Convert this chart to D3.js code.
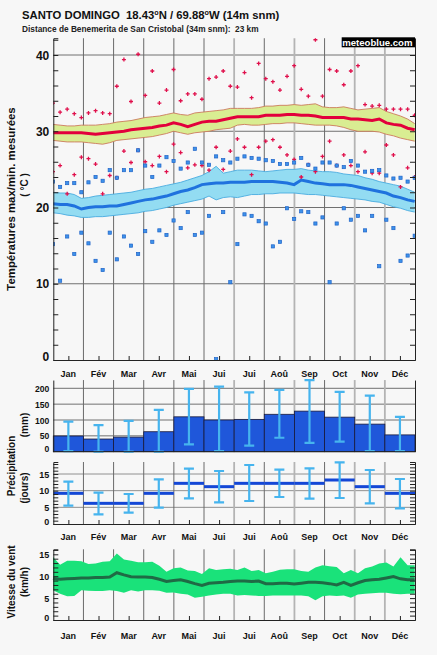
<!DOCTYPE html>
<html><head><meta charset="utf-8">
<script src="https://cdn.jsdelivr.net/npm/d3@7"></script>
<style>
html,body{margin:0;padding:0;background:#f7f7f7;}
svg{display:block;font-family:"Liberation Sans",Arial,sans-serif;font-weight:bold;}
text{white-space:pre;}
</style></head><body>
<svg id="c" width="437" height="655"></svg>
<script>
// ---------- DATA ----------
const months = ["Jan","Fév","Mar","Avr","Mai","Jui","Jui","Aoû","Sep","Oct","Nov","Déc"];
const tempTicks = [0,10,20,30,40];
const precipTicks = [0,50,100,150,200];
const dayTicks = [0,5,10,15];
const windTicks = [0,5,10,15];

// weekly values (52 per year)
const tmaxMean = [29.8,29.8,29.8,29.8,29.8,29.7,29.6,29.7,29.8,29.9,30.0,30.2,30.3,30.4,30.5,30.7,30.8,31.1,30.9,30.6,30.9,31.2,31.3,31.3,31.5,31.7,31.9,31.9,31.9,31.9,32.1,32.1,32.1,32.2,32.2,32.1,32.1,32.0,31.8,31.8,31.8,31.8,31.6,31.6,31.5,31.4,31.6,31.1,30.9,30.8,30.4,30.2];
const tmaxBandHi = [30.9,30.8,30.7,30.7,30.8,30.8,30.8,30.9,31.0,31.2,31.3,31.4,31.6,31.8,31.9,32.0,32.2,32.4,32.2,32.1,32.4,32.5,32.6,32.7,32.8,33.0,33.0,33.0,33.0,33.1,33.3,33.3,33.4,33.4,33.5,33.4,33.5,33.6,33.2,33.1,33.1,33.2,33.0,32.8,32.9,33.0,33.1,32.6,32.3,32.0,31.6,31.0];
const tmaxBandLo = [28.8,28.7,28.6,28.6,28.6,28.5,28.4,28.3,28.5,28.8,28.9,29.0,29.1,29.2,29.3,29.5,29.7,30.0,29.8,29.6,29.8,29.9,30.0,30.2,30.3,30.4,30.8,30.9,30.8,30.8,30.9,31.0,31.0,31.1,31.1,31.0,30.9,30.8,30.8,30.8,30.7,30.5,30.2,30.0,30.0,30.0,29.9,29.6,29.4,29.1,28.9,28.7];
const tminMean = [20.5,20.4,20.4,20.2,19.8,20.0,20.1,20.1,20.2,20.2,20.4,20.6,20.8,21.0,21.1,21.3,21.5,21.8,22.1,22.3,22.6,23.0,23.1,23.2,23.2,23.3,23.3,23.3,23.4,23.4,23.4,23.4,23.3,23.2,23.0,23.6,23.4,23.2,23.1,23.0,23.0,23.0,22.9,22.7,22.5,22.3,22.1,21.9,21.5,21.3,21.0,20.8];
const tminBandHi = [22.0,21.9,21.9,21.7,21.2,21.3,21.5,21.6,21.7,21.8,21.9,22.0,22.2,22.4,22.5,22.7,22.9,23.1,23.3,23.6,23.9,24.2,24.7,25.4,24.5,24.7,24.9,24.9,24.9,24.8,24.7,24.8,24.9,25.0,25.0,25.1,24.9,24.8,24.7,24.7,24.6,24.4,24.3,24.2,23.9,23.7,23.4,23.2,23.0,22.8,22.4,22.0];
const tminBandLo = [19.3,19.2,19.0,18.9,18.7,18.7,18.8,18.8,18.9,19.0,19.1,19.2,19.3,19.5,19.6,19.8,20.0,20.3,20.5,20.7,20.9,21.1,21.5,21.0,21.3,21.4,21.3,21.5,21.7,21.7,21.8,21.8,21.9,21.9,21.9,21.8,21.7,21.7,21.6,21.5,21.4,21.3,21.2,21.1,21.0,20.8,20.7,20.4,20.1,19.9,19.6,19.4];
const tmaxHighest = [33.7,32.5,32.9,32.3,31.8,32.4,32.7,32.4,32.3,35.9,39.4,33.9,40.1,34.7,37.9,33.7,35.4,38.1,34.0,34.9,34.9,34.2,36.9,37.1,37.9,35.9,35.8,37.7,34.4,38.9,36.9,36.5,35.4,37.2,38.6,35.5,34.6,42.0,34.6,38.1,37.9,36.1,37.9,38.6,33.5,33.3,33.4,32.9,32.9,32.9,32.9,32.1];
const tminHighest = [24.7,25.5,21.8,24.3,26.6,26.4,25.7,21.8,24.2,23.9,27.4,25.9,27.5,26.0,25.5,26.7,24.7,28.3,27.2,25.2,25.6,25.5,24.9,27.9,25.0,27.4,29.0,27.9,24.3,27.9,28.7,28.9,27.9,26.9,26.3,24.0,25.6,24.7,26.7,28.7,25.5,26.9,25.5,24.7,27.3,24.5,24.5,28.2,26.9,22.7,25.2,24.0];
const tmaxLowest = [23.4,22.7,23.2,23.2,22.0,23.3,24.0,23.5,24.9,23.9,24.9,24.9,27.5,25.5,24.0,25.5,26.6,26.1,25.1,25.9,27.7,25.9,25.6,26.7,26.2,25.9,26.4,26.7,26.5,26.4,26.2,26.1,25.7,25.7,25.9,26.5,25.6,25.1,25.9,25.9,25.5,25.3,26.1,25.5,24.7,24.8,24.9,24.2,23.8,23.9,23.4,23.9];
const tminLowest = [15.2,10.4,16.2,13.9,16.7,15.3,13.0,11.8,16.7,13.2,16.2,15.0,13.9,16.9,15.5,17.0,16.4,18.3,17.3,19.4,16.4,16.7,18.9,0.1,19.4,10.2,15.2,19.1,18.9,18.2,17.9,14.9,15.5,19.9,18.5,19.5,19.4,17.9,18.7,10.2,17.9,19.9,18.4,18.9,17.0,18.9,12.3,18.4,17.3,13.0,13.7,16.3];

// monthly precipitation
const precipMm = [49.5,40,46,63,110,100,102,118,128,109,87,53];
const precipMmLo = [2,0,0,0,23,2,19,44,28,32,2,2];
const precipMmHi = [95,84,97,132,198,205,187,195,226,189,177,110];
const precipDays = [9.2,6.2,6.2,9.2,12.2,11.2,12.2,12.2,12.2,13.2,11.2,9.2];
const precipDaysLo = [5.5,2.9,3.4,4.9,7.7,6.5,6.9,8.1,7.6,7.8,6.2,4.7];
const precipDaysHi = [12.7,9.4,9.0,13.4,16.6,15.9,17.7,16.3,16.7,18.5,16.2,13.5];

// weekly wind speed
const windMean = [9.5,9.3,9.4,9.5,9.6,9.6,9.7,9.7,9.8,10.8,10.3,9.9,9.8,9.8,9.7,9.3,8.8,9.0,9.2,8.8,8.3,7.9,8.4,8.5,8.6,8.8,8.9,8.9,8.8,8.9,8.3,8.3,8.4,8.4,8.2,8.4,8.6,8.6,8.5,8.3,8.0,8.6,7.9,8.5,9.0,9.2,9.3,9.6,9.9,9.4,9.2,9.2];
const windHi = [14.4,12.6,13.5,13.5,13.4,12.8,12.9,13.3,13.4,15.2,13.8,13.5,13.2,13.2,13.3,12.4,11.0,11.8,12.0,11.3,11.2,10.5,11.8,11.4,11.6,11.7,11.4,12.0,11.2,11.4,10.7,11.0,11.5,11.6,11.6,11.2,11.0,12.0,12.5,12.3,12.1,10.7,11.4,10.7,11.8,12.2,12.9,13.1,12.2,14.3,12.5,12.5];
const windLo = [6.8,6.0,5.4,5.5,6.8,6.7,6.6,6.6,6.8,6.6,6.2,6.8,6.5,6.8,6.8,6.7,6.2,6.3,6.0,5.8,5.1,5.3,5.6,5.8,6.0,6.0,5.6,5.7,5.6,5.5,5.5,5.6,5.6,5.6,5.6,5.6,5.4,4.5,5.4,5.6,5.5,5.6,5.1,5.8,6.0,6.1,6.2,6.2,6.0,5.9,6.0,6.0];

// ---------- CHART ----------
const svg = d3.select("#c");
const X0 = 53.3, X1 = 415;
const xm = d3.scaleLinear().domain([0,12]).range([X0, X1]);
const xw = d3.scaleLinear().domain([0,51]).range([53, 414.7]);
const lightMonthLines = [6,8,10,11];

function monthLines(g, y0, y1) {
  g.selectAll(null).data(d3.range(1,12)).join("line")
    .attr("x1", d => xm(d)).attr("x2", d => xm(d))
    .attr("y1", y0).attr("y2", y1)
    .attr("stroke", d => lightMonthLines.includes(d) ? "#b4b4b4" : "#6a6a6a")
    .attr("stroke-width", d => lightMonthLines.includes(d) ? 1.8 : 1);
}
function hGrid(g, y, vals, color) {
  g.selectAll(null).data(vals).join("line")
    .attr("x1", X0).attr("x2", X1).attr("y1", d => y(d)).attr("y2", d => y(d))
    .attr("stroke", color || "#777").attr("stroke-width", 1);
}
function frame(g, y, minor, fontSize, ticks, withMonths, labelY) {
  const [d0, d1] = y.domain();
  const la = d3.axisRight(y).tickSizeOuter(0).tickFormat("").tickSize(minor ? 5 : 0);
  if (minor) la.tickValues(minor);
  g.append("g").attr("transform", `translate(${X0},0)`).call(la)
    .call(s => s.selectAll("line,path").attr("stroke", "#222"));
  const ra = d3.axisLeft(y).tickSizeOuter(0).tickFormat("").tickSize(minor ? 5 : 0);
  if (minor) ra.tickValues(minor);
  g.append("g").attr("transform", `translate(${X1},0)`).call(ra)
    .call(s => s.selectAll("line,path").attr("stroke", "#222"));
  const lab = d3.axisLeft(y).tickValues(ticks).tickSize(0).tickPadding(4);
  g.append("g").attr("transform", `translate(${X0},0)`).call(lab)
    .call(s => { s.select(".domain").remove();
      s.selectAll("text").attr("font-size", fontSize).attr("font-weight","bold")
        .attr("font-family", '"Liberation Sans",Arial,sans-serif').attr("fill", "#111")
        .attr("dy", d => d === 0 ? "0.0em" : "0.35em"); });
  if (withMonths) {
    const ba = d3.axisTop(xm).tickValues(d3.range(0.5,12,1)).tickSize(4).tickSizeOuter(0).tickFormat("");
    g.append("g").attr("transform", `translate(0,${y(d0)})`).call(ba)
      .call(s => s.selectAll("line,path").attr("stroke", "#222"));
    g.append("g").selectAll("text").data(months).join("text")
      .attr("x", (d,i) => xm(i+0.5)).attr("y", labelY)
      .attr("text-anchor","middle").attr("font-size", 9).attr("fill","#111").text(d => d);
  } else {
    g.append("line").attr("x1", X0).attr("x2", X1).attr("y1", y(d0)).attr("y2", y(d0)).attr("stroke","#222");
  }
}

// Title
const title = svg.append("text").attr("x", 22).attr("y", 19).attr("font-size", 11.3).attr("fill","#111");
title.append("tspan").text("SANTO DOMINGO  18.43");
title.append("tspan").attr("dy", -4).attr("font-size", 7.2).text("o");
title.append("tspan").attr("dy", 4).text("N / 69.88");
title.append("tspan").attr("dy", -4).attr("font-size", 7.2).text("o");
title.append("tspan").attr("dy", 4).text("W (14m snm)");
svg.append("text").attr("x", 22).attr("y", 32.3).attr("font-size", 8.3).attr("fill","#222")
  .text("Distance de Benemerita de San Cristobal (34m snm):  23 km");

// ---------- Temperature panel ----------
const yT = d3.scaleLinear().domain([0, 42.2]).range([360, 360 - 42.2*7.625]);
const gT = svg.append("g");
svg.append("clipPath").attr("id","clipT").append("rect")
  .attr("x", X0).attr("y", yT(42.2)).attr("width", X1-X0).attr("height", yT(0)-yT(42.2));
hGrid(gT, yT, [10,20,30,40], "#707070");
monthLines(gT, yT(42.2), yT(0));
const gTc = gT.append("g").attr("clip-path","url(#clipT)");
const area = (hi, lo, y) => d3.area().x((d,i) => xw(i)).y0((d,i) => y(lo[i])).y1((d,i) => y(hi[i]));
const line = (arr, y) => d3.line().x((d,i) => xw(i)).y(d => y(d));
gTc.append("path").datum(tmaxBandHi).attr("d", area(tmaxBandHi, tmaxBandLo, yT)).attr("fill","#d9ed92");
gTc.append("path").datum(tmaxBandHi).attr("d", line(tmaxBandHi, yT)).attr("fill","none").attr("stroke","#cc7a5c").attr("stroke-width",0.9);
gTc.append("path").datum(tmaxBandLo).attr("d", line(tmaxBandLo, yT)).attr("fill","none").attr("stroke","#cc7a5c").attr("stroke-width",0.9);
gTc.append("path").datum(tmaxMean).attr("d", line(tmaxMean, yT)).attr("fill","none").attr("stroke","#e2003c").attr("stroke-width",3);
gTc.append("path").datum(tminBandHi).attr("d", area(tminBandHi, tminBandLo, yT)).attr("fill","#93dcf2");
gTc.append("path").datum(tminBandHi).attr("d", line(tminBandHi, yT)).attr("fill","none").attr("stroke","#48ace0").attr("stroke-width",0.9);
gTc.append("path").datum(tminBandLo).attr("d", line(tminBandLo, yT)).attr("fill","none").attr("stroke","#48ace0").attr("stroke-width",0.9);
gTc.append("path").datum(tminMean).attr("d", line(tminMean, yT)).attr("fill","none").attr("stroke","#1f72de").attr("stroke-width",3);
function plus(arr) {
  gTc.append("g").selectAll("path").data(arr).join("path")
    .attr("d", (d,i) => { const x = xw(i), y = yT(d); return `M${x-2},${y}H${x+2}M${x},${y-2}V${y+2}`; })
    .attr("stroke","#e0104c").attr("stroke-width",1.3);
}
function squares(arr) {
  gTc.append("g").selectAll("rect").data(arr).join("rect")
    .attr("x", (d,i) => xw(i)-1.6).attr("y", d => yT(d)-1.6).attr("width",3.2).attr("height",3.2)
    .attr("fill","#3d92ea").attr("stroke","#1f63c8").attr("stroke-width",0.7);
}
plus(tmaxHighest); plus(tminHighest);
squares(tmaxLowest); squares(tminLowest);
frame(gT, yT, d3.range(0,43,2), 12, tempTicks, true, 376.5);
// meteoblue badge
svg.append("rect").attr("x", 341.7).attr("y", 37.3).attr("width", X1-341.7).attr("height", 10).attr("fill","#000");
svg.append("text").attr("x", 412.5).attr("y", 45.6).attr("text-anchor","end").attr("font-size", 9.6).attr("fill","#fff").text("meteoblue.com");

// axis titles
function vtitle(x, y, txt, size) {
  svg.append("text").attr("transform", `translate(${x},${y}) rotate(-90)`)
    .attr("text-anchor","middle").attr("font-size", size).attr("fill","#111").text(txt);
}
vtitle(15, 199, "Températures max/min. mesurées", 11.4);
vtitle(27.5, 185, "( °C )", 10);

// ---------- Precipitation mm ----------
const yP = d3.scaleLinear().domain([0, 226]).range([451.7, 451.7 - 226*0.317]);
const gP = svg.append("g");
hGrid(gP, yP, [50,100,150,200], "#707070");
monthLines(gP, yP(226), yP(0));
gP.selectAll("rect.bar").data(precipMm).join("rect").attr("class","bar")
  .attr("x", (d,i) => xm(i)).attr("width", (d,i) => xm(i+1)-xm(i))
  .attr("y", d => yP(d)).attr("height", d => yP(0)-yP(d))
  .attr("fill","#1f57da").attr("stroke","#1a1a3a").attr("stroke-width",0.8);
function errBars(g, y, lo, hi) {
  const eb = g.append("g").attr("stroke","#46b4ee").attr("stroke-width",2.2).attr("fill","none");
  eb.selectAll("path").data(hi).join("path")
    .attr("d", (d,i) => { const x = xm(i+0.5), t = y(hi[i]), b = y(lo[i]);
      return `M${x},${t}V${b}M${x-5},${t}H${x+5}M${x-5},${b}H${x+5}`; });
}
errBars(gP, yP, precipMmLo, precipMmHi);
frame(gP, yP, null, 8.6, precipTicks, false);

// ---------- Precipitation days ----------
const yD = d3.scaleLinear().domain([0, 18.6]).range([524, 524 - 18.6*3.333]);
const gD = svg.append("g");
hGrid(gD, yD, [5,10,15], "#909090");
monthLines(gD, yD(18.6), yD(0));
gD.selectAll("line.dl").data(precipDays).join("line").attr("class","dl")
  .attr("x1", (d,i) => xm(i)).attr("x2", (d,i) => xm(i+1))
  .attr("y1", d => yD(d)).attr("y2", d => yD(d))
  .attr("stroke","#1447d6").attr("stroke-width",3);
errBars(gD, yD, precipDaysLo, precipDaysHi);
frame(gD, yD, d3.range(0,19,1), 9, dayTicks, true, 540);

vtitle(15, 466, "Précipitation", 10);
vtitle(27.5, 425, "(mm)", 10);
vtitle(27.5, 488, "(jours)", 10);

// ---------- Wind ----------
const yW = d3.scaleLinear().domain([0, 16.14]).range([620, 620 - 16.14*4.38]);
const gW = svg.append("g");
monthLines(gW, yW(16.14), yW(0));
gW.append("path").datum(windHi).attr("d", area(windHi, windLo, yW)).attr("fill","#1ae27a");
gW.append("path").datum(windMean).attr("d", line(windMean, yW)).attr("fill","none").attr("stroke","#1f6a45").attr("stroke-width",3);
frame(gW, yW, d3.range(0,17,1), 9, windTicks, true, 638.5);
vtitle(15, 582, "Vitesse du vent", 10);
vtitle(27.5, 582, "(km/h)", 10);
</script>
</body></html>
